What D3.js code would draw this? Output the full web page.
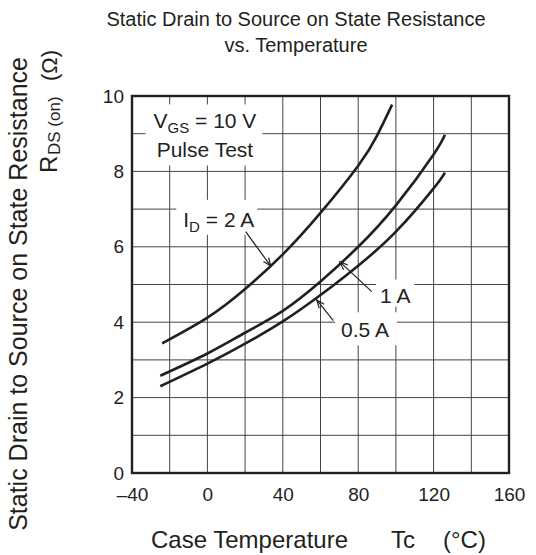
<!DOCTYPE html>
<html>
<head>
<meta charset="utf-8">
<script src="https://cdn.jsdelivr.net/npm/d3@7"></script>
<style>
  html, body { margin: 0; padding: 0; background: #fff; }
  svg { display: block; font-family: "Liberation Sans", Arial, sans-serif; }
</style>
</head>
<body>
<svg id="chart" width="536" height="555"></svg>
<script>
// ---- data ----
const tempTicks = [-40, 0, 40, 80, 120, 160];
const resTicks = [0, 2, 4, 6, 8, 10];
const tempGrid = [-20, 0, 20, 40, 60, 80, 100, 120, 140];
const resGrid = [1, 2, 3, 4, 5, 6, 7, 8, 9];

const temp2A = [-24, 0, 20, 40, 60, 80, 90, 98];
const res2A  = [3.44, 4.12, 4.88, 5.80, 6.90, 8.15, 8.95, 9.77];
const temp1A = [-25, 0, 20, 40, 60, 80, 100, 120, 126];
const res1A  = [2.58, 3.17, 3.72, 4.30, 5.08, 6.00, 7.10, 8.45, 8.97];
const temp05A = [-25, 0, 20, 40, 60, 80, 100, 120, 126];
const res05A  = [2.30, 2.90, 3.43, 4.02, 4.72, 5.50, 6.40, 7.55, 7.97];

const titleLines = ["Static Drain to Source on State Resistance", "vs. Temperature"];

// ---- layout ----
const svg = d3.select("#chart");
const ink = "#231f20";
const x = d3.scaleLinear().domain([-40, 160]).range([132, 509]);
const y = d3.scaleLinear().domain([0, 10]).range([473, 96]);

// grid
const grid = svg.append("g");
grid.selectAll("line.v").data(tempGrid).join("line")
  .attr("x1", d => x(d)).attr("x2", d => x(d))
  .attr("y1", y(0)).attr("y2", y(10))
  .attr("stroke", "#444").attr("stroke-width", 1);
grid.selectAll("line.h").data(resGrid).join("line")
  .attr("y1", d => y(d)).attr("y2", d => y(d))
  .attr("x1", x(-40)).attr("x2", x(160))
  .attr("stroke", "#444").attr("stroke-width", 1);

// annotation layer (white boxes hide grid)
const annot = svg.append("g");

function boxedText(lines, pad) {
  const g = annot.append("g");
  const rect = g.append("rect").attr("fill", "#fff");
  lines.forEach(fn => fn(g));
  const bb = g.node().getBBox();
  rect.attr("x", bb.x - pad[3]).attr("y", bb.y - pad[0])
      .attr("width", bb.width + pad[1] + pad[3])
      .attr("height", bb.height + pad[0] + pad[2]);
  return g;
}

const fa = 21;   // annotation font
const fsub = 15; // subscript font
// VGS = 10 V / Pulse Test
boxedText([
  g => {
    const t = g.append("text").attr("x", x(-1.3)).attr("y", y(9.14))
      .attr("text-anchor", "middle").attr("font-size", fa).attr("fill", ink);
    t.append("tspan").text("V");
    t.append("tspan").attr("dy", 5).attr("font-size", fsub).text("GS");
    t.append("tspan").attr("dy", -5).text(" = 10 V");
  },
  g => g.append("text").attr("x", x(-1.3)).attr("y", y(8.37))
      .attr("text-anchor", "middle").attr("font-size", fa).attr("fill", ink).text("Pulse Test")
], [5, 6, 4, 8]);

// I_D = 2 A
boxedText([
  g => {
    const t = g.append("text").attr("x", x(-12.8)).attr("y", y(6.53))
      .attr("font-size", fa).attr("fill", ink);
    t.append("tspan").text("I");
    t.append("tspan").attr("dy", 5).attr("font-size", fsub).text("D");
    t.append("tspan").attr("dy", -5).text(" = 2 A");
  }
], [8, 3, 0, 7]);

boxedText([
  g => g.append("text").attr("x", x(91.6)).attr("y", y(4.52))
      .attr("font-size", fa).attr("fill", ink).text("1 A")
], [4, 4, 0, 4]);

boxedText([
  g => g.append("text").attr("x", x(70.9)).attr("y", y(3.6))
      .attr("font-size", fa).attr("fill", ink).text("0.5 A")
], [6, 8, 4, 6]);

// frame
svg.append("rect").attr("x", x(-40)).attr("y", y(10))
  .attr("width", x(160) - x(-40)).attr("height", y(0) - y(10))
  .attr("fill", "none").attr("stroke", ink).attr("stroke-width", 2.4);

// curves
const line = d3.line().x(d => x(d[0])).y(d => y(d[1])).curve(d3.curveNatural);
const seriesData = [
  d3.zip(temp2A, res2A),
  d3.zip(temp1A, res1A),
  d3.zip(temp05A, res05A)
];
svg.append("g").selectAll("path").data(seriesData).join("path")
  .attr("d", line).attr("fill", "none").attr("stroke", ink).attr("stroke-width", 2.6);

// arrows (tail -> head in data units)
const arrowTails = [[20.3, 6.4], [87.2, 4.81], [66.8, 4.04]];
const arrowHeads = [[33.6, 5.49], [70.3, 5.6], [58.0, 4.59]];
svg.append("defs").append("marker")
  .attr("id", "ah").attr("viewBox", "-10 -5 12 10")
  .attr("refX", 0).attr("refY", 0)
  .attr("markerWidth", 12).attr("markerHeight", 10)
  .attr("markerUnits", "userSpaceOnUse").attr("orient", "auto")
  .append("path").attr("d", "M-8,-3.2 L0,0 L-8,3.2")
  .attr("fill", "none").attr("stroke", ink).attr("stroke-width", 1.2);
svg.append("g").selectAll("line").data(d3.zip(arrowTails, arrowHeads)).join("line")
  .attr("x1", d => x(d[0][0])).attr("y1", d => y(d[0][1]))
  .attr("x2", d => x(d[1][0])).attr("y2", d => y(d[1][1]))
  .attr("stroke", ink).attr("stroke-width", 1.2).attr("marker-end", "url(#ah)");

// axes
const ft = 19;
const fmt = d => d < 0 ? "\u2013" + Math.abs(d) : String(d);
const xAxis = svg.append("g").attr("transform", `translate(0,${y(0)})`)
  .call(d3.axisBottom(x).tickValues(tempTicks).tickSize(0).tickPadding(15).tickFormat(fmt));
const yAxis = svg.append("g").attr("transform", `translate(${x(-40)},0)`)
  .call(d3.axisLeft(y).tickValues(resTicks).tickSize(0).tickPadding(8).tickFormat(fmt));
[xAxis, yAxis].forEach(a => {
  a.select(".domain").remove();
  a.selectAll("text").attr("font-size", ft).attr("fill", ink)
    .attr("font-family", "Liberation Sans, Arial, sans-serif");
});

// title
svg.append("g").selectAll("text").data(titleLines).join("text")
  .attr("x", 296).attr("y", (d, i) => 26 + i * 26)
  .attr("text-anchor", "middle").attr("font-size", 20).attr("fill", ink)
  .text(d => d);

// x label
const xl = svg.append("text").attr("y", 548).attr("font-size", 24).attr("fill", ink);
xl.append("tspan").attr("x", 151).text("Case Temperature");
xl.append("tspan").attr("x", 391).text("Tc");
xl.append("tspan").attr("x", 443).text("(°C)");

// y label
svg.append("text").attr("transform", "translate(27,57) rotate(-90)")
  .attr("text-anchor", "end").attr("font-size", 25).attr("fill", ink)
  .text("Static Drain to Source on State Resistance");
const yl2 = svg.append("text").attr("transform", "translate(57,0) rotate(-90)")
  .attr("font-size", 24).attr("fill", ink);
yl2.append("tspan").attr("x", -173).text("R");
yl2.append("tspan").attr("x", -155).attr("dy", 3).attr("font-size", 17).text("DS (on)");
yl2.append("tspan").attr("x", -81).attr("dy", -3).attr("font-size", 22).text("(Ω)");
</script>
</body>
</html>
